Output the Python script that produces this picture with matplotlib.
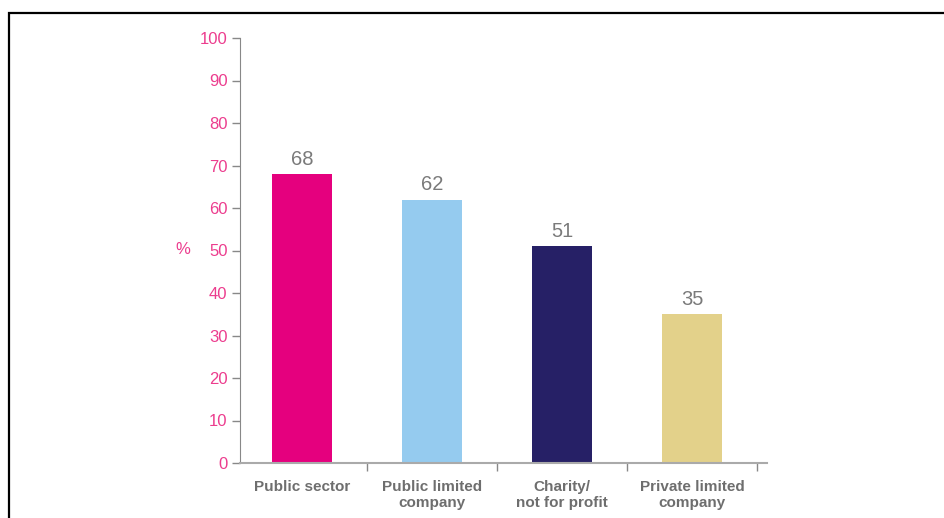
import matplotlib.pyplot as plt
from matplotlib.patches import Rectangle
import numpy as np

plt.rcParams['font.family'] = ['Liberation Sans', 'DejaVu Sans']

categories = ['Public sector', 'Public limited\ncompany', 'Charity/\nnot for profit', 'Private limited\ncompany']
values = [68, 62, 51, 35]
colors = ['#E5007E', '#95CBEF', '#262066', '#E3D18A']
yticks = [0, 10, 20, 30, 40, 50, 60, 70, 80, 90, 100]

pink = '#EC3D8E'
grey = '#7A7A7A'

fig = plt.figure(figsize=(9.44, 5.18), dpi=100)

# outer frame (runs off right and bottom edges)
fig.patches.append(Rectangle((9/944, -0.1), 1.2, 1 - 13/518 + 0.1,
                             transform=fig.transFigure, fill=False,
                             edgecolor='black', linewidth=1.6))

ax = fig.add_axes([240/944, 55/518, 527/944, 425/518])
x = np.arange(len(values))
ax.bar(x, values, width=0.454, color=colors)

for xi, v in zip(x, values):
    ax.text(xi, v + 1.2, str(v), ha='center', va='bottom', fontsize=14.5, color=grey)

ax.set_xlim(-0.477, 3.577)
ax.set_ylim(0, 100)
ax.set_yticks(yticks)
ax.tick_params(axis='y', colors='#888888', labelcolor=pink, labelsize=12,
               length=6, width=1, pad=3, direction='out')

ax.set_xticks(x)
ax.set_xticklabels(categories, fontsize=11, fontweight='bold', color='#6E6E6E',
                   linespacing=1.2)
ax.tick_params(axis='x', length=0, pad=12)
ax.set_xticks([0.5, 1.5, 2.5, 3.5], minor=True)
ax.tick_params(axis='x', which='minor', length=6, width=1, color='#888888', direction='out')

for s in ['top', 'right']:
    ax.spines[s].set_visible(False)
ax.spines['left'].set_color('#888888')
ax.spines['bottom'].set_color('#AAAAAA')
ax.spines['bottom'].set_linewidth(1.5)

fig.text(183/944, 1 - 249/518, '%', color=pink, fontsize=12, ha='center', va='center')

fig.savefig('out.png', dpi=100)
